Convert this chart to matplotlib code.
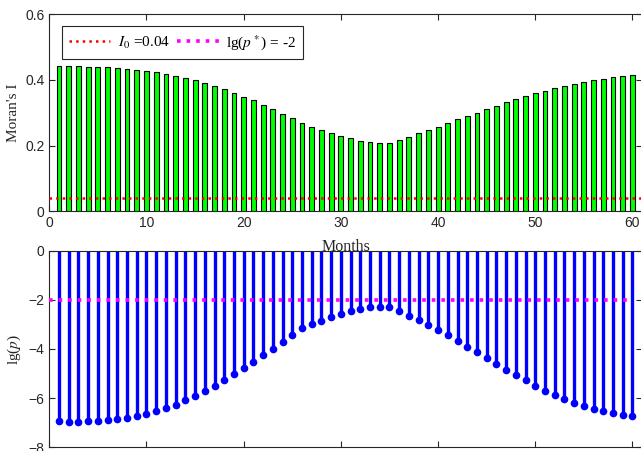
import numpy as np
import matplotlib
matplotlib.use("Agg")
import matplotlib.pyplot as plt

months = np.arange(1, 61)
moran_i = [0.441, 0.441, 0.441, 0.440, 0.439, 0.438, 0.436, 0.434, 0.431, 0.428,
           0.424, 0.418, 0.411, 0.405, 0.398, 0.390, 0.380, 0.371, 0.360, 0.349,
           0.337, 0.324, 0.311, 0.297, 0.284, 0.268, 0.257, 0.246, 0.237, 0.229,
           0.222, 0.215, 0.210, 0.208, 0.209, 0.217, 0.227, 0.237, 0.246, 0.257,
           0.268, 0.280, 0.289, 0.300, 0.311, 0.321, 0.331, 0.341, 0.350, 0.359,
           0.367, 0.374, 0.381, 0.387, 0.394, 0.398, 0.403, 0.407, 0.411, 0.415]
lg_p = [-6.95, -6.96, -6.96, -6.95, -6.92, -6.89, -6.85, -6.81, -6.73, -6.64,
        -6.53, -6.41, -6.26, -6.09, -5.92, -5.72, -5.50, -5.27, -5.03, -4.77,
        -4.51, -4.24, -3.99, -3.72, -3.45, -3.16, -3.00, -2.85, -2.70, -2.57,
        -2.46, -2.36, -2.31, -2.28, -2.31, -2.47, -2.65, -2.84, -3.03, -3.23,
        -3.45, -3.66, -3.91, -4.14, -4.36, -4.61, -4.84, -5.05, -5.27, -5.49,
        -5.69, -5.86, -6.04, -6.18, -6.31, -6.43, -6.53, -6.61, -6.68, -6.73]
I0 = 0.04
lgp_star = -2

plt.rcParams['font.family'] = ['Liberation Sans', 'DejaVu Sans']
plt.rcParams['mathtext.fontset'] = 'stix'
plt.rcParams['xtick.direction'] = 'in'
plt.rcParams['ytick.direction'] = 'in'
plt.rcParams['xtick.top'] = True
plt.rcParams['ytick.right'] = True

W, H = 641, 451
fig = plt.figure(figsize=(W / 100, H / 100), dpi=100)

def pos(l, t, r, b):
    return [l / W, 1 - b / H, (r - l) / W, (b - t) / H]

ax1 = fig.add_axes(pos(49.3, 14, 642.2, 211.3))
ax2 = fig.add_axes(pos(49.3, 250.7, 642.2, 447.3))

tc = '#262626'
serif = ['Liberation Serif', 'DejaVu Serif']

for ax in (ax1, ax2):
    for s in ax.spines.values():
        s.set_color(tc)
        s.set_linewidth(0.8)
    ax.tick_params(colors=tc, labelsize=10, length=4, width=0.8)
    ax.set_xlim(0, 61)

# top panel
ax1.bar(months, moran_i, width=0.5, color='#00ff00', edgecolor='black', linewidth=0.8, zorder=2)
l1, = ax1.plot([0, 61], [I0, I0], color='red', linestyle=':', linewidth=1.8, zorder=3)
ax1.set_ylim(0, 0.6)
ax1.set_yticks([0, 0.2, 0.4, 0.6])
ax1.set_yticklabels(['0', '0.2', '0.4', '0.6'])
ax1.set_xticks(np.arange(0, 61, 10))
ax1.set_ylabel("Moran's I", family=serif, fontsize=11, color=tc, labelpad=4)
ax1.set_xlabel('Months', family=serif, fontsize=11.5, color=tc, labelpad=6.5)

# bottom panel
ml, sl, bl = ax2.stem(months, lg_p, linefmt='-', markerfmt='o', basefmt=' ')
plt.setp(sl, color='#0000ff', linewidth=2.4)
plt.setp(ml, color='#0000ff', markersize=4.5)
l2, = ax2.plot([0, 60], [lgp_star, lgp_star], color='#ff00ff', linestyle=':', linewidth=2.6, zorder=3)
ax2.set_ylim(-8, 0)
ax2.set_yticks([-8, -6, -4, -2, 0])
ax2.set_xticks(np.arange(0, 61, 10))
ax2.tick_params(axis='x', labelbottom=False)
ax2.set_ylabel(r'lg($p$)', family=serif, fontsize=11, color=tc, labelpad=4)

leg = ax1.legend([l1, l2], [r'$I_0$ =0.04', r'lg($p^*$) = -2'], ncol=2,
                 loc='upper left', bbox_to_anchor=(12.7 / 592.9, 1 - 12 / 197.3),
                 borderaxespad=0, fancybox=False, framealpha=1, edgecolor=tc,
                 prop={'family': serif, 'size': 11}, handlelength=2.7,
                 columnspacing=0.5, handletextpad=0.5, borderpad=0.45)
leg.get_frame().set_linewidth(0.8)

fig.savefig('out.png', dpi=100)
